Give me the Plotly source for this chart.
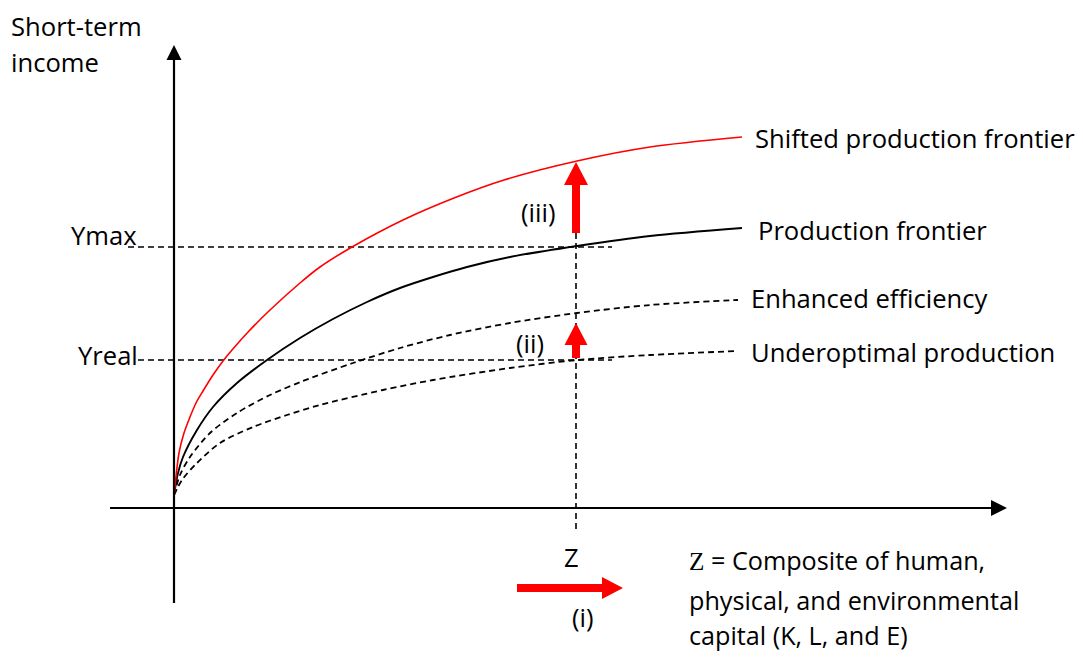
import plotly.graph_objects as go

# ---------------- data (conceptual units; origin at the axes crossing) ----------------
shifted_x = [0, 5, 10, 16, 22, 29, 39, 49, 58, 75, 96, 126, 146, 178, 229, 280, 330, 403, 476, 568]
shifted_y = [11, 55, 75, 91, 105, 117, 133, 147, 158, 177, 198, 225, 241, 261, 288, 310, 328, 347, 361, 371]

frontier_x = [0, 4, 9, 23, 39, 63, 93, 126, 159, 193, 226, 259, 293, 336, 403, 476, 568]
frontier_y = [13, 35, 51, 78, 101, 125, 148, 170, 189, 206, 220, 231, 241, 251, 262, 272, 280]

enhanced_x = [0, 6, 16, 36, 63, 96, 129, 179, 226, 276, 336, 403, 476, 564]
enhanced_y = [13, 33, 51, 75, 95, 113, 127, 145, 160, 173, 185, 195, 203, 208]

underopt_x = [0, 8, 23, 46, 79, 113, 146, 209, 259, 336, 403, 476, 564]
underopt_y = [13, 28, 45, 65, 81, 93, 103, 118, 128, 140, 148, 153, 157]

curve_labels = ["Shifted production frontier", "Production frontier",
                "Enhanced efficiency", "Underoptimal production"]

y_max = 261     # Ymax level
y_real = 148    # Yreal level
z_level = 402   # Z position on the horizontal axis

y_tick_labels = ["Ymax", "Yreal"]
y_axis_title = ["Short-term", "income"]
x_label = "Z"
shift_labels = ["(i)", "(ii)", "(iii)"]
z_note = ["<span style='font-family:Liberation Serif, Times New Roman, serif'>Z</span> = Composite of human,",
          "physical, and environmental",
          "capital (K, L, and E)"]

# ---------------- figure ----------------
FONT = "Open Sans, Lato, sans-serif"
FS = 25.6
FS_NOTE = 25.2
PAGE_OFFSET = 8            # default body margin of the page
W, H = 1083 - 2 * PAGE_OFFSET, 659 - 2 * PAGE_OFFSET
X0, Y0 = 174 - PAGE_OFFSET, 508 - PAGE_OFFSET  # pixel position of origin inside the figure

fig = go.Figure()

SM = 0.85
fig.add_trace(go.Scatter(x=underopt_x, y=underopt_y, mode="lines",
                         line=dict(color="black", width=1.8, dash="6px,4px", shape="spline", smoothing=SM),
                         hoverinfo="skip"))
fig.add_trace(go.Scatter(x=enhanced_x, y=enhanced_y, mode="lines",
                         line=dict(color="black", width=1.8, dash="6px,4px", shape="spline", smoothing=SM),
                         hoverinfo="skip"))
fig.add_trace(go.Scatter(x=frontier_x, y=frontier_y, mode="lines",
                         line=dict(color="black", width=1.9, shape="spline", smoothing=SM),
                         hoverinfo="skip"))
fig.add_trace(go.Scatter(x=shifted_x, y=shifted_y, mode="lines",
                         line=dict(color="#ff0000", width=1.6, shape="spline", smoothing=SM),
                         hoverinfo="skip"))

shapes = []
dash_line = dict(color="black", width=1.6, dash="6px,4px")

# reference dashed lines
shapes.append(dict(type="line", x0=-46, x1=438, y0=y_max, y1=y_max, line=dash_line, layer="below"))
shapes.append(dict(type="line", x0=-36, x1=438, y0=y_real, y1=y_real, line=dash_line, layer="below"))
shapes.append(dict(type="line", x0=z_level, x1=z_level, y0=275, y1=-24, line=dash_line, layer="below"))

# axes
shapes.append(dict(type="line", x0=0, x1=0, y0=-95, y1=450, line=dict(color="black", width=2.2)))
shapes.append(dict(type="line", x0=-64, x1=818, y0=0, y1=0, line=dict(color="black", width=2.2)))


def vertical_arrow(x, y0, y1, sw, hl, hw):
    b = y1 - hl
    return (f"M {x-sw},{y0} L {x+sw},{y0} L {x+sw},{b} L {x+hw},{b} L {x},{y1} "
            f"L {x-hw},{b} L {x-sw},{b} Z")


def horizontal_arrow(y, x0, x1, sw, hl, hw):
    b = x1 - hl
    return (f"M {x0},{y-sw} L {x0},{y+sw} L {b},{y+sw} L {b},{y+hw} L {x1},{y} "
            f"L {b},{y-hw} L {b},{y-sw} Z")


# axis arrow heads
shapes.append(dict(type="path", path=vertical_arrow(0, 448, 463, 0, 15, 7.5),
                   fillcolor="black", line=dict(width=0)))
shapes.append(dict(type="path", path=horizontal_arrow(0, 816, 833, 0, 16, 8),
                   fillcolor="black", line=dict(width=0)))

# red shift arrows
RED = "#ff0000"
shapes.append(dict(type="path", path=vertical_arrow(z_level, 275, 346, 4, 23, 12),
                   fillcolor=RED, line=dict(width=0)))
shapes.append(dict(type="path", path=vertical_arrow(z_level, 150, 185, 4, 22, 11.5),
                   fillcolor=RED, line=dict(width=0)))
shapes.append(dict(type="path", path=horizontal_arrow(-80, 343, 449, 4, 21, 11),
                   fillcolor=RED, line=dict(width=0)))

ann = []


def text(x, y, s, xanchor="center", yanchor="middle", size=FS):
    ann.append(dict(x=x, y=y, text=s, showarrow=False, xanchor=xanchor, yanchor=yanchor,
                    borderpad=0, font=dict(family=FONT, size=size, color="black")))


text(-164, Y0, y_axis_title[0], "left", "top")
text(-164, 446, y_axis_title[1], "left")
text(-36, 273, y_tick_labels[0], "right")
text(-35, 153, y_tick_labels[1], "right")

text(580, 370, curve_labels[0], "left")
text(583, 278, curve_labels[1], "left")
text(576, 210, curve_labels[2], "left")
text(576, 156, curve_labels[3], "left")

text(364, 296, shift_labels[2])
text(356, 165, shift_labels[1])
text(397, -49, x_label)
text(409, -109, shift_labels[0])

text(514, -52, z_note[0], "left", size=FS_NOTE)
text(514, -92, z_note[1], "left", size=FS_NOTE)
text(514, -126.5, z_note[2], "left", size=FS_NOTE)

fig.update_layout(
    width=W, height=H,
    margin=dict(l=0, r=0, t=0, b=0),
    paper_bgcolor="white", plot_bgcolor="white",
    showlegend=False,
    xaxis=dict(range=[-X0, W - X0], visible=False, fixedrange=True),
    yaxis=dict(range=[Y0 - H, Y0], visible=False, fixedrange=True),
    shapes=shapes,
    annotations=ann,
)

fig.write_html("out.html")
